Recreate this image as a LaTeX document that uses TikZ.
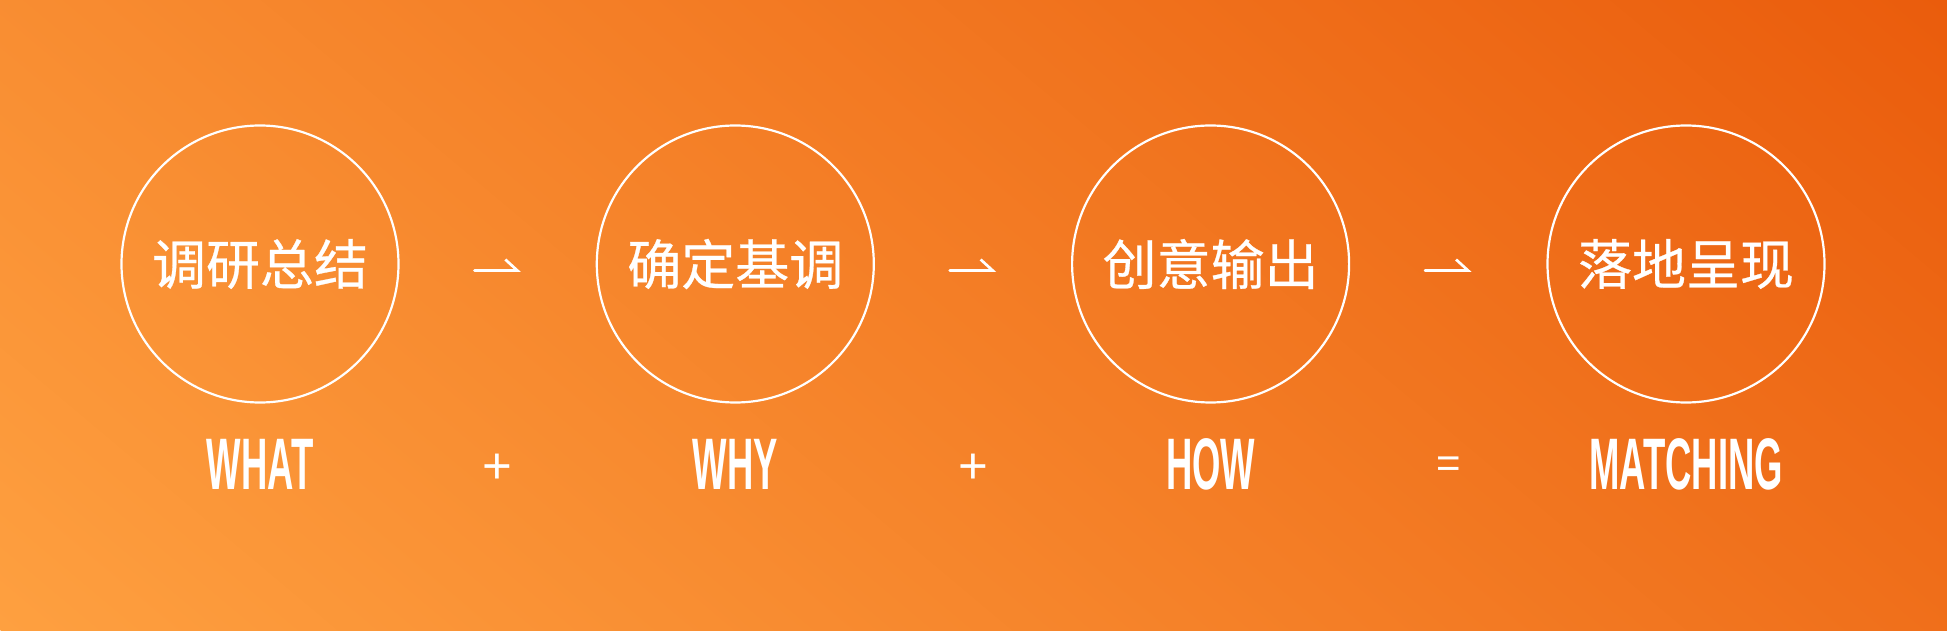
\documentclass[tikz,border=0pt]{standalone}
\usepackage{fontspec}
\usetikzlibrary{calc}
\usetikzlibrary{arrows.meta}
\newfontfamily\cnfont[FakeBold=0.5]{Noto Sans CJK SC}
\newfontfamily\tagfont[FakeStretch=0.5]{Liberation Sans}
\newfontfamily\signfont{Liberation Sans}
\definecolor{bgLight}{RGB}{254,160,64}
\definecolor{bgDark}{RGB}{234,92,12}

\begin{document}
\begin{tikzpicture}[x=1pt,y=1pt,
  ring/.style={circle,draw=white,line width=2.2pt,minimum size=277pt,inner sep=0pt,outer sep=0pt,text=white,font=\cnfont\fontsize{54}{60}\selectfont},
  tag/.style={anchor=base,text=white,inner sep=0pt,font=\tagfont\bfseries\fontsize{73}{76}\selectfont},
  sign/.style={text=white,inner sep=0pt,font=\signfont\fontsize{51}{55}\selectfont},
  flow/.style={white,line width=2.7pt,line cap=round,-{Straight Barb[harpoon,length=12pt,width=22pt]},shorten <=76pt,shorten >=76pt}]

\useasboundingbox (0,0) rectangle (1947,630);
\begin{scope}
\clip (0,0) rectangle (1947,630);
\begin{scope}[transform canvas={shift={(973.5,315)},rotate=50}]
\shade[left color=bgLight,right color=bgDark] (-867,-960) rectangle (867,960);
\end{scope}
\end{scope}

\node[ring] (c1) at (260,366) {调研总结};
\node[ring] (c2) at (735.3,366) {确定基调};
\node[ring] (c3) at (1210.6,366) {创意输出};
\node[ring] (c4) at (1686,366) {落地呈现};

\draw[flow] ([yshift=-6.5]c1.east) -- ([yshift=-6.5]c2.west);
\draw[flow] ([yshift=-6.5]c2.east) -- ([yshift=-6.5]c3.west);
\draw[flow] ([yshift=-6.5]c3.east) -- ([yshift=-6.5]c4.west);

\node[tag] (t1) at ($(c1)+(0,-225)$) {WHAT};
\node[tag] (t2) at ($(c2)+(0,-225)$) {WHY};
\node[tag] (t3) at ($(c3)+(0,-225)$) {HOW};
\node[tag] (t4) at ($(c4)+(0,-225)$) {MATCHING};

\coordinate (m1) at ($(c1)!0.5!(c2)$);
\coordinate (m2) at ($(c2)!0.5!(c3)$);
\coordinate (m3) at ($(c3)!0.5!(c4)$);
\node[sign] (p1) at ($(m1)+(0,-205)$) {+};
\node[sign] (p2) at ($(m2)+(0,-205)$) {+};
\node[sign,font=\signfont\fontsize{42}{46}\selectfont] (eq) at ($(m3)+(0,-203)$) {=};

\end{tikzpicture}
\end{document}
